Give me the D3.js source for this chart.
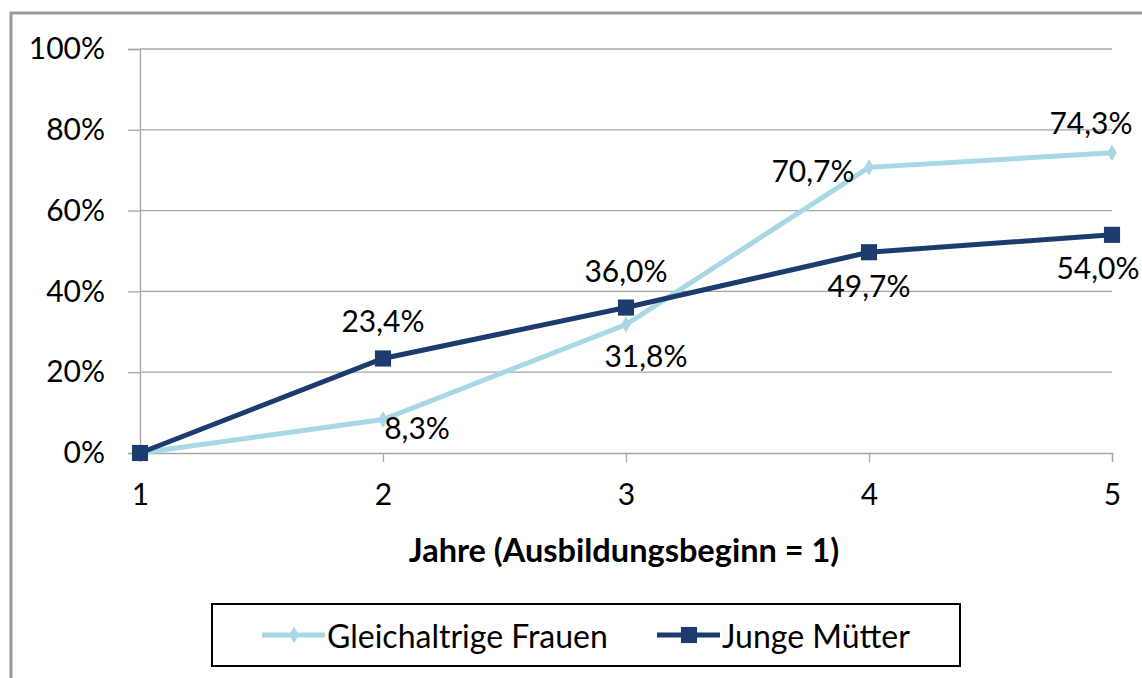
<!DOCTYPE html>
<html><head><meta charset="utf-8">
<script src="https://cdn.jsdelivr.net/npm/d3@7"></script>
<style>body{margin:0;background:#fff}svg{display:block}text{font-family:Lato,"Open Sans",sans-serif}</style>
</head><body><svg id="c" width="1142" height="678"></svg>
<script>
const years = [1, 2, 3, 4, 5];
const yTicks = [0, 20, 40, 60, 80, 100];
const seriesNames = ["Gleichaltrige Frauen", "Junge Mütter"];
const frauen = [0, 8.3, 31.8, 70.7, 74.3];
const muetter = [0, 23.4, 36.0, 49.7, 54.0];
const frauenLabels = ["", "8,3%", "31,8%", "70,7%", "74,3%"];
const muetterLabels = ["", "23,4%", "36,0%", "49,7%", "54,0%"];
const xTitle = "Jahre (Ausbildungsbeginn = 1)";

const svg = d3.select("#c");
const x = d3.scaleLinear().domain([1, 5]).range([140, 1112]);
const y = d3.scaleLinear().domain([0, 100]).range([453, 49]);
const light = "#A8D8E6", dark = "#1C3B6E", grid = "#a6a6a6";
const FS = 30;

// frame
svg.append("path").attr("d", "M11,678 V13 H1142").attr("fill", "none").attr("stroke", "#999").attr("stroke-width", 3);

// gridlines
svg.append("g").selectAll("line").data(yTicks.filter(d => d > 0)).join("line")
  .attr("x1", x(1)).attr("x2", x(5)).attr("y1", d => y(d)).attr("y2", d => y(d))
  .attr("stroke", grid).attr("stroke-width", 1.3);

// y axis
const ya = svg.append("g").attr("transform", `translate(${x(1)},0)`)
  .call(d3.axisLeft(y).tickValues(yTicks).tickSize(12).tickPadding(23).tickFormat(d => d + "%"));
ya.select(".domain").attr("stroke", grid).attr("stroke-width", 1.3);
ya.selectAll(".tick line").attr("stroke", grid).attr("stroke-width", 1.3);
ya.selectAll("text").attr("font-size", FS).attr("fill", "#000").attr("font-family", "Lato");

// x axis
const xa = svg.append("g").attr("transform", `translate(0,${y(0)})`)
  .call(d3.axisBottom(x).tickValues(years).tickSize(9).tickPadding(22).tickFormat(d3.format("d")));
xa.select(".domain").attr("stroke", grid).attr("stroke-width", 1.3);
xa.selectAll(".tick line").attr("stroke", grid).attr("stroke-width", 1.3);
xa.selectAll("text").attr("font-size", FS).attr("fill", "#000").attr("font-family", "Lato");

svg.append("text").attr("x", 624).attr("y", 549).attr("text-anchor", "middle").attr("dominant-baseline", "central")
  .attr("font-size", 32.5).attr("font-weight", "bold").text(xTitle);

const line = d3.line().x((d, i) => x(years[i])).y(d => y(d));
const diamond = d3.symbol().type(d3.symbolDiamond).size(80);
const square = d3.symbol().type(d3.symbolSquare).size(260);

svg.append("path").datum(frauen).attr("d", line).attr("fill", "none").attr("stroke", light).attr("stroke-width", 5);
svg.append("g").selectAll("path").data(frauen).join("path")
  .attr("d", diamond).attr("transform", (d, i) => `translate(${x(years[i])},${y(d)})`).attr("fill", light);

svg.append("path").datum(muetter).attr("d", line).attr("fill", "none").attr("stroke", dark).attr("stroke-width", 5);
svg.append("g").selectAll("path").data(muetter).join("path")
  .attr("d", square).attr("transform", (d, i) => `translate(${x(years[i])},${y(d)})`).attr("fill", dark);

// data labels: offsets relative to points
const fOff = [[0,0],[34,8],[20,30],[-56,3],[-21,-31]];
const mOff = [[0,0],[0,-38],[0,-38],[0,33],[-14,32]];
function labels(vals, labs, off) {
  svg.append("g").selectAll("text").data(vals).join("text")
    .attr("x", (d, i) => x(years[i]) + off[i][0]).attr("y", (d, i) => y(d) + off[i][1])
    .attr("text-anchor", "middle").attr("dominant-baseline", "central")
    .attr("font-size", FS).attr("fill", "#000").text((d, i) => labs[i]);
}
labels(frauen, frauenLabels, fOff);
labels(muetter, muetterLabels, mOff);

// legend
const lg = svg.append("g");
lg.append("rect").attr("x", 212).attr("y", 604).attr("width", 748).attr("height", 62)
  .attr("fill", "#fff").attr("stroke", "#000").attr("stroke-width", 2);
const items = [{name: seriesNames[0], c: light, sym: diamond, x0: 262}, {name: seriesNames[1], c: dark, sym: square, x0: 657}];
items.forEach(it => {
  lg.append("line").attr("x1", it.x0).attr("x2", it.x0 + 63).attr("y1", 635).attr("y2", 635).attr("stroke", it.c).attr("stroke-width", 5);
  lg.append("path").attr("d", it.sym).attr("transform", `translate(${it.x0 + 32},635)`).attr("fill", it.c);
  lg.append("text").attr("x", it.x0 + 65).attr("y", 635).attr("dominant-baseline", "central").attr("font-size", 32).text(it.name);
});
</script></body></html>
